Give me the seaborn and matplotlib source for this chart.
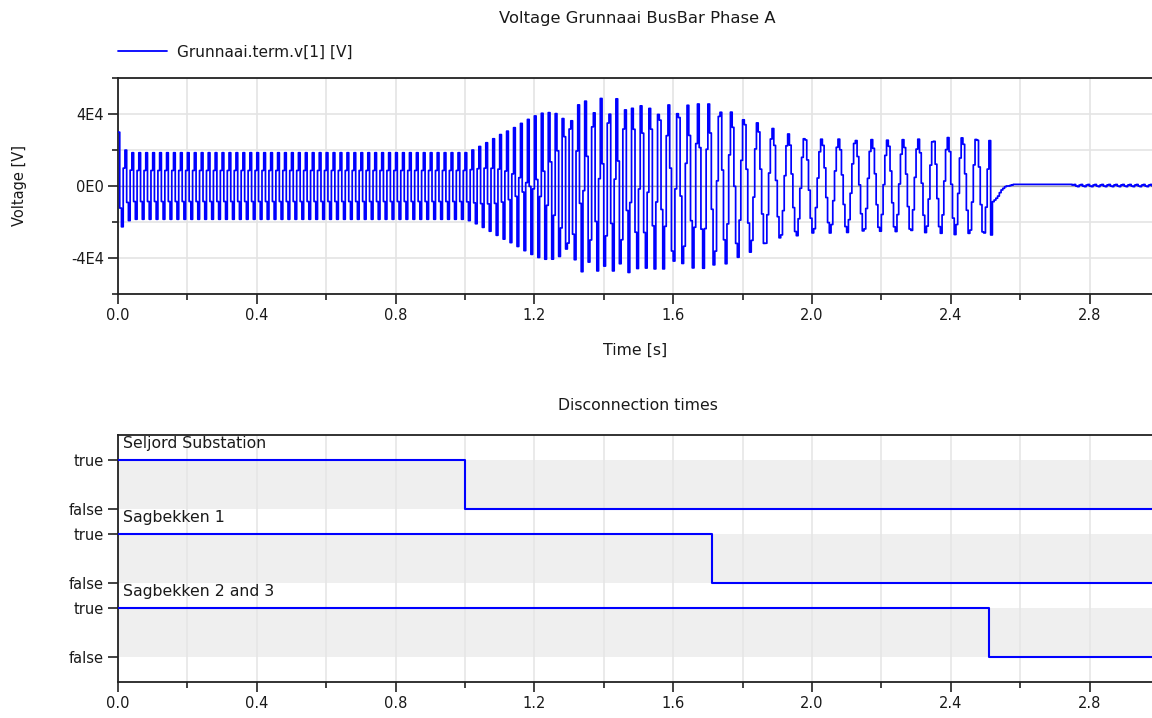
import numpy as np
import pandas as pd
import matplotlib
matplotlib.use("Agg")
import matplotlib.pyplot as plt
from matplotlib.ticker import MultipleLocator, FixedLocator, FixedFormatter
from matplotlib.lines import Line2D
import seaborn as sns

# ---------------------------------------------------------------------------
# Simulation output: Grunnaai bus bar, phase A voltage (output interval 5 ms)
# ---------------------------------------------------------------------------
SAMPLE_DT = 0.005
T_END = 2.98

# amplitude envelope of the phase voltage [V]
amp_t = [0.00, 0.01, 0.02, 0.04, 1.00, 1.02, 1.06, 1.10, 1.14, 1.18, 1.22,
         1.26, 1.31, 1.36, 1.41, 1.45, 1.50, 1.55, 1.60, 1.66, 1.72, 1.75,
         1.79, 1.83, 1.87, 1.91, 1.96, 2.01, 2.10, 2.20, 2.30, 2.40, 2.51]
amp_v = [3.3e4, 2.5e4, 2.2e4, 2.04e4, 2.04e4, 2.2e4, 2.6e4, 3.0e4, 3.3e4,
         3.7e4, 4.1e4, 4.4e4, 4.7e4, 4.85e4, 4.9e4, 4.85e4, 4.75e4, 4.65e4,
         4.6e4, 4.55e4, 4.6e4, 4.35e4, 4.0e4, 3.65e4, 3.35e4, 2.95e4, 2.8e4,
         2.62e4, 2.6e4, 2.57e4, 2.6e4, 2.7e4, 2.8e4]

# electrical frequency of the island [Hz]
freq_t = [0.00, 1.00, 1.25, 1.30, 1.35, 1.45, 1.50, 1.55, 1.60, 1.65, 1.70,
          1.75, 1.80, 1.85, 1.90, 2.00, 2.10, 2.20, 2.30, 2.40, 2.51]
freq_hz = [50.0, 50.0, 49.0, 48.0, 45.0, 44.0, 40.0, 39.0, 35.0, 35.0, 31.5,
           30.0, 27.0, 23.5, 22.0, 20.5, 20.5, 22.0, 23.0, 24.0, 24.8]
phase0_deg = 115.0
osc_end = 2.51

# bus voltage after the last breaker opens (5 ms samples from 2.515 s) [V]
tail_v = [-27200, -8700, -7800, -6800, -5600, -3700, -2200, -1300, -400,
          0, 0, 300, 600, 900]
plateau_v = 900.0
ripple_start = 2.75
ripple_amp = 650.0
ripple_offset = 250.0
ripple_hz = 50.0

# breaker states
breakers = ["Seljord Substation", "Sagbekken 1", "Sagbekken 2 and 3"]
trip_times = [1.0, 1.711, 2.51]
true_levels = [6.0, 4.5, 3.0]

# ---------------------------------------------------------------------------
t_osc = np.arange(0.0, osc_end + 1e-9, SAMPLE_DT)
f_osc = np.interp(t_osc, freq_t, freq_hz)
theta = np.deg2rad(phase0_deg) + 2 * np.pi * np.concatenate(
    [[0.0], np.cumsum(0.5 * (f_osc[1:] + f_osc[:-1]) * SAMPLE_DT)])
v_osc = np.interp(t_osc, amp_t, amp_v) * np.sin(theta)

t_tail = osc_end + SAMPLE_DT * (1 + np.arange(len(tail_v)))
t_plat = np.arange(t_tail[-1] + SAMPLE_DT, ripple_start - 1e-9, SAMPLE_DT)
t_rip = np.arange(ripple_start, T_END + SAMPLE_DT, SAMPLE_DT)
v_rip = ripple_offset + ripple_amp * np.sin(
    2 * np.pi * ripple_hz * (t_rip - ripple_start) + np.deg2rad(25))

volt = pd.DataFrame({
    "time": np.concatenate([t_osc, t_tail, t_plat, t_rip]),
    "voltage": np.concatenate([v_osc, np.array(tail_v, float),
                               np.full(len(t_plat), plateau_v), v_rip]),
})

# ---------------------------------------------------------------------------
sns.set_theme(style="white")
plt.rcParams["font.family"] = ["DejaVu Sans"]
plt.rcParams["font.size"] = 11

BLUE = "#0000ff"
GRID = "#e4e4e4"
TXT = "#1a1a1a"
TICK_FS = 10.5
TEXT_FS = 11.3

fig = plt.figure(figsize=(11.52, 7.18), dpi=100)
W, H = 1152.0, 718.0
ax1 = fig.add_axes([118 / W, 1 - 294 / H, (1152 - 118) / W, (294 - 78) / H])
ax2 = fig.add_axes([118 / W, 1 - 682 / H, (1152 - 118) / W, (682 - 435) / H])

# ---- voltage panel ----
sns.lineplot(data=volt, x="time", y="voltage", ax=ax1, color=BLUE, lw=1.25,
             drawstyle="steps-post", estimator=None, sort=True, zorder=3)
ax1.axhline(0, color="#a8a8a8", lw=0.9, zorder=2)
ax1.set_xlim(0, T_END)
ax1.set_ylim(-6e4, 6e4)
ax1.yaxis.set_major_locator(FixedLocator([-4e4, 0, 4e4]))
ax1.yaxis.set_major_formatter(FixedFormatter(["-4E4", "0E0", "4E4"]))
ax1.yaxis.set_minor_locator(FixedLocator([-6e4, -2e4, 2e4, 6e4]))

for ax in (ax1, ax2):
    ax.xaxis.set_major_locator(MultipleLocator(0.4))
    ax.xaxis.set_minor_locator(MultipleLocator(0.2))
    ax.xaxis.set_major_formatter(plt.FuncFormatter(lambda v, p: f"{v:.1f}"))
    ax.tick_params(which="major", direction="out", length=7, width=1.2,
                   color="#222222", labelsize=TICK_FS, labelcolor=TXT,
                   bottom=True, left=True, pad=3)
    ax.tick_params(which="minor", direction="out", length=4, width=1.2,
                   color="#222222", bottom=True, left=True)
    for side in ("top", "left", "bottom"):
        ax.spines[side].set_visible(True)
        ax.spines[side].set_color("#222222")
        ax.spines[side].set_linewidth(1.3)
    ax.spines["right"].set_visible(False)
    ax.set_axisbelow(True)

ax1.grid(which="both", color=GRID, lw=1.2)
ax1.set_xlabel("Time [s]", color=TXT, fontsize=TEXT_FS)
ax1.xaxis.set_label_coords(0.5, -0.259)
ax1.xaxis.label.set_va("center")
ax1.set_ylabel("Voltage [V]", color=TXT, fontsize=10.5)
ax1.yaxis.set_label_coords(-0.0948, 0.5)
ax1.yaxis.label.set_va("center")

ax1.legend(handles=[Line2D([], [], color=BLUE, lw=1.3)],
           labels=["Grunnaai.term.v[1] [V]"], loc="center left",
           bbox_to_anchor=(0.0, 1.12), frameon=False, handlelength=3.2,
           handletextpad=0.65, borderpad=0, borderaxespad=0, fontsize=11.1,
           labelcolor=TXT)

fig.text(637.5 / W, 1 - 18 / H, "Voltage Grunnaai BusBar Phase A",
         ha="center", va="center", fontsize=11.8, color=TXT)

# ---- breaker state panel ----
ax2.set_xlim(0, T_END)
ax2.set_ylim(1.5, 6.5)
for name, trip, lvl in zip(breakers, trip_times, true_levels):
    ax2.axhspan(lvl - 1.0, lvl, color="#efefef", lw=0, zorder=0.3)
    state = pd.DataFrame({"time": [0.0, trip, T_END],
                          "level": [lvl, lvl - 1.0, lvl - 1.0]})
    sns.lineplot(data=state, x="time", y="level", ax=ax2, color=BLUE, lw=1.5,
                 drawstyle="steps-post", estimator=None, zorder=3)
    ax2.text(0.0145, lvl + 0.33, name, ha="left", va="center",
             fontsize=TEXT_FS, color=TXT, zorder=4)
ax2.grid(which="both", axis="x", color="#e6e6e6", lw=1.2)

ax2.yaxis.set_major_locator(FixedLocator(
    [v for lvl in true_levels for v in (lvl, lvl - 1.0)]))
ax2.yaxis.set_major_formatter(FixedFormatter(["true", "false"] * 3))
ax2.yaxis.set_minor_locator(FixedLocator([]))
ax2.set_xlabel("")
ax2.set_ylabel("")

fig.text(637.5 / W, 1 - 405 / H, "Disconnection times",
         ha="center", va="center", fontsize=TEXT_FS, color=TXT)

fig.savefig("out.png", dpi=100)
